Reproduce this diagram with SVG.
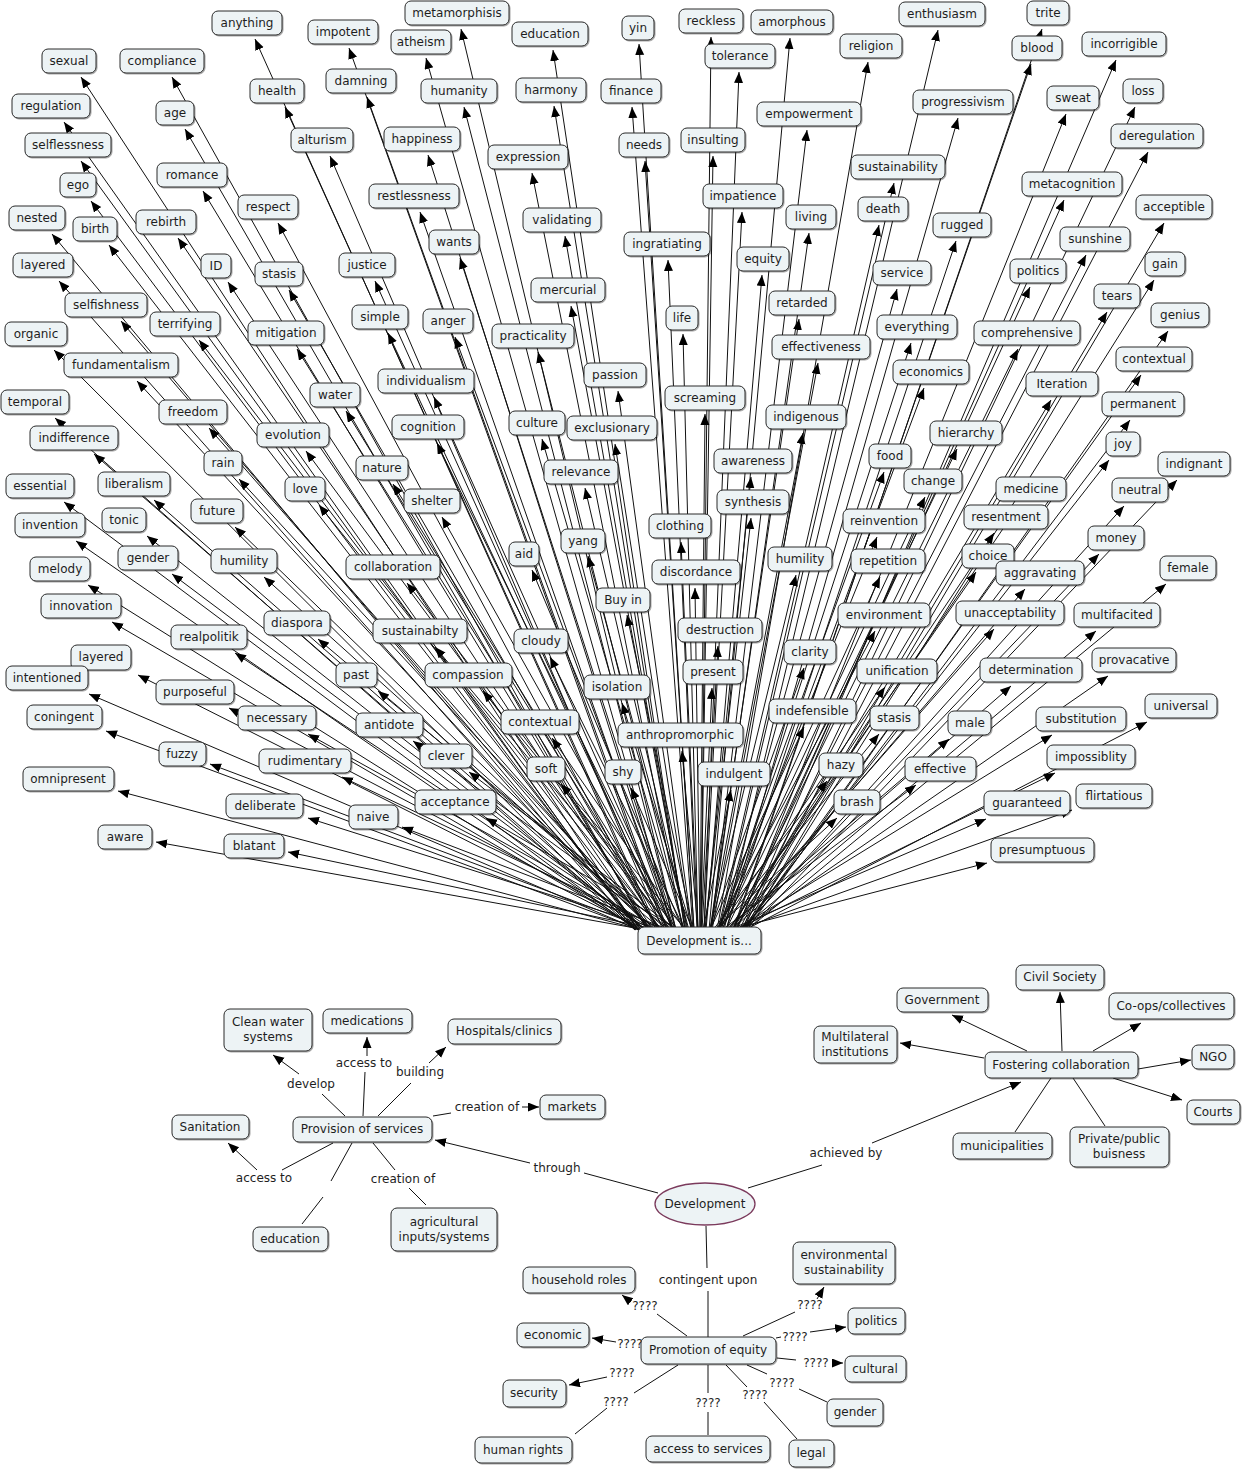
<svg xmlns="http://www.w3.org/2000/svg" width="1245" height="1471" viewBox="0 0 1245 1471">
<style>
.c path{fill:none;stroke:#111;stroke-width:1}
.c .a{marker-end:url(#ah)}
.n rect{fill:#edf3f5;stroke:#2a2a2a;stroke-width:1;filter:url(#sh)}
.n text,.lp{font-family:"DejaVu Sans",Verdana,sans-serif;font-size:12px;fill:#1e1e1e;text-anchor:middle}
.root ellipse{fill:#edf3f5;stroke:#7b3a5c;stroke-width:1.3}
</style>
<defs>
<marker id="ah" markerUnits="userSpaceOnUse" markerWidth="12" markerHeight="10" refX="11" refY="4.5" orient="auto"><path d="M0,0 L11,4.5 L0,9 z" fill="#000"/></marker>
<filter id="sh" x="-10%" y="-20%" width="130%" height="160%"><feDropShadow dx="1" dy="1" stdDeviation="0.5" flood-color="#000" flood-opacity="0.35"/></filter>
</defs>
<rect width="1245" height="1471" fill="#fff"/>
<g id="connectors" class="c">
<path class="a" d="M656 930L255 39"/>
<path class="a" d="M665 930L349 48"/>
<path class="a" d="M676 930L461 29"/>
<path class="a" d="M673 930L426 58"/>
<path class="a" d="M685 930L553 50"/>
<path class="a" d="M694 930L639 44"/>
<path class="a" d="M701 930L711 37"/>
<path class="a" d="M709 930L790 38"/>
<path class="a" d="M724 930L938 30"/>
<path class="a" d="M734 930L1042 29"/>
<path class="a" d="M638 930L81 77"/>
<path class="a" d="M647 930L172 77"/>
<path class="a" d="M742 930L1116 60"/>
<path class="a" d="M717 930L868 62"/>
<path class="a" d="M704 930L739 72"/>
<path class="a" d="M733 930L1031 64"/>
<path class="a" d="M667 930L367 97"/>
<path class="a" d="M676 930L464 107"/>
<path class="a" d="M685 930L554 106"/>
<path class="a" d="M693 930L632 107"/>
<path class="a" d="M658 930L285 107"/>
<path class="a" d="M648 930L185 129"/>
<path class="a" d="M636 930L64 122"/>
<path class="a" d="M737 930L1066 114"/>
<path class="a" d="M743 930L1135 107"/>
<path class="a" d="M726 930L958 118"/>
<path class="a" d="M711 930L807 130"/>
<path class="a" d="M701 930L713 156"/>
<path class="a" d="M663 930L330 156"/>
<path class="a" d="M673 930L428 155"/>
<path class="a" d="M638 930L81 161"/>
<path class="a" d="M745 930L1148 152"/>
<path class="a" d="M683 930L532 173"/>
<path class="a" d="M694 930L645 161"/>
<path class="a" d="M719 930L894 183"/>
<path class="a" d="M650 930L203 191"/>
<path class="a" d="M639 930L91 201"/>
<path class="a" d="M736 930L1064 200"/>
<path class="a" d="M704 930L742 212"/>
<path class="a" d="M672 930L420 212"/>
<path class="a" d="M658 930L278 223"/>
<path class="a" d="M746 930L1164 223"/>
<path class="a" d="M718 930L879 225"/>
<path class="a" d="M711 930L809 233"/>
<path class="a" d="M686 930L565 236"/>
<path class="a" d="M635 930L52 234"/>
<path class="a" d="M648 930L178 238"/>
<path class="a" d="M726 930L956 241"/>
<path class="a" d="M641 930L109 245"/>
<path class="a" d="M697 930L668 260"/>
<path class="a" d="M676 930L460 258"/>
<path class="a" d="M739 930L1086 255"/>
<path class="a" d="M653 930L228 282"/>
<path class="a" d="M659 930L289 290"/>
<path class="a" d="M667 930L375 281"/>
<path class="a" d="M706 930L762 275"/>
<path class="a" d="M636 930L59 281"/>
<path class="a" d="M745 930L1154 280"/>
<path class="a" d="M720 930L897 289"/>
<path class="a" d="M733 930L1030 287"/>
<path class="a" d="M687 930L571 306"/>
<path class="a" d="M741 930L1107 312"/>
<path class="a" d="M710 930L799 319"/>
<path class="a" d="M642 930L121 321"/>
<path class="a" d="M650 930L199 340"/>
<path class="a" d="M669 930L388 333"/>
<path class="a" d="M675 930L455 337"/>
<path class="a" d="M698 930L683 334"/>
<path class="a" d="M747 930L1168 331"/>
<path class="a" d="M660 930L297 349"/>
<path class="a" d="M684 930L538 352"/>
<path class="a" d="M721 930L911 343"/>
<path class="a" d="M732 930L1018 349"/>
<path class="a" d="M635 930L54 350"/>
<path class="a" d="M712 930L818 363"/>
<path class="a" d="M744 930L1141 375"/>
<path class="a" d="M644 930L137 381"/>
<path class="a" d="M722 930L924 388"/>
<path class="a" d="M692 930L618 391"/>
<path class="a" d="M673 930L434 397"/>
<path class="a" d="M735 930L1051 400"/>
<path class="a" d="M700 930L705 414"/>
<path class="a" d="M665 930L346 411"/>
<path class="a" d="M635 930L55 418"/>
<path class="a" d="M743 930L1130 420"/>
<path class="a" d="M651 930L209 428"/>
<path class="a" d="M710 930L803 433"/>
<path class="a" d="M684 930L542 439"/>
<path class="a" d="M691 930L615 444"/>
<path class="a" d="M674 930L437 443"/>
<path class="a" d="M726 930L957 449"/>
<path class="a" d="M639 930L94 454"/>
<path class="a" d="M661 930L306 451"/>
<path class="a" d="M741 930L1109 460"/>
<path class="a" d="M718 930L884 472"/>
<path class="a" d="M705 930L751 477"/>
<path class="a" d="M748 930L1177 480"/>
<path class="a" d="M654 930L239 479"/>
<path class="a" d="M669 930L393 484"/>
<path class="a" d="M688 930L585 488"/>
<path class="a" d="M722 930L925 497"/>
<path class="a" d="M645 930L154 500"/>
<path class="a" d="M636 930L64 502"/>
<path class="a" d="M732 930L1019 505"/>
<path class="a" d="M742 930L1124 506"/>
<path class="a" d="M662 930L319 505"/>
<path class="a" d="M674 930L442 517"/>
<path class="a" d="M705 930L751 518"/>
<path class="a" d="M653 930L235 527"/>
<path class="a" d="M729 930L994 533"/>
<path class="a" d="M718 930L877 537"/>
<path class="a" d="M645 930L147 536"/>
<path class="a" d="M638 930L76 541"/>
<path class="a" d="M698 930L681 542"/>
<path class="a" d="M683 930L532 570"/>
<path class="a" d="M689 930L588 556"/>
<path class="a" d="M740 930L1099 554"/>
<path class="a" d="M710 930L796 575"/>
<path class="a" d="M647 930L172 574"/>
<path class="a" d="M656 930L264 577"/>
<path class="a" d="M728 930L976 572"/>
<path class="a" d="M718 930L880 577"/>
<path class="a" d="M671 930L407 583"/>
<path class="a" d="M700 930L695 588"/>
<path class="a" d="M732 930L1025 589"/>
<path class="a" d="M747 930L1166 584"/>
<path class="a" d="M639 930L88 585"/>
<path class="a" d="M693 930L627 615"/>
<path class="a" d="M641 930L112 622"/>
<path class="a" d="M717 930L875 631"/>
<path class="a" d="M729 930L994 629"/>
<path class="a" d="M740 930L1096 631"/>
<path class="a" d="M662 930L318 639"/>
<path class="a" d="M673 930L435 647"/>
<path class="a" d="M702 930L718 646"/>
<path class="a" d="M653 930L235 653"/>
<path class="a" d="M685 930L550 657"/>
<path class="a" d="M710 930L804 668"/>
<path class="a" d="M644 930L138 675"/>
<path class="a" d="M639 930L89 694"/>
<path class="a" d="M718 930L885 687"/>
<path class="a" d="M731 930L1011 686"/>
<path class="a" d="M741 930L1108 676"/>
<path class="a" d="M668 930L378 691"/>
<path class="a" d="M678 930L483 691"/>
<path class="a" d="M701 930L712 688"/>
<path class="a" d="M692 930L622 703"/>
<path class="a" d="M653 930L229 708"/>
<path class="a" d="M710 930L804 727"/>
<path class="a" d="M718 930L879 734"/>
<path class="a" d="M735 930L1052 735"/>
<path class="a" d="M745 930L1147 722"/>
<path class="a" d="M641 930L106 731"/>
<path class="a" d="M661 930L308 734"/>
<path class="a" d="M685 930L552 738"/>
<path class="a" d="M671 930L413 741"/>
<path class="a" d="M698 930L682 751"/>
<path class="a" d="M725 930L949 739"/>
<path class="a" d="M677 930L469 772"/>
<path class="a" d="M651 930L210 764"/>
<path class="a" d="M664 930L342 777"/>
<path class="a" d="M735 930L1055 773"/>
<path class="a" d="M686 930L561 784"/>
<path class="a" d="M693 930L631 788"/>
<path class="a" d="M703 930L731 790"/>
<path class="a" d="M713 930L827 781"/>
<path class="a" d="M722 930L916 785"/>
<path class="a" d="M642 930L118 791"/>
<path class="a" d="M679 930L486 818"/>
<path class="a" d="M670 930L402 827"/>
<path class="a" d="M661 930L308 818"/>
<path class="a" d="M714 930L837 818"/>
<path class="a" d="M729 930L986 819"/>
<path class="a" d="M737 930L1072 810"/>
<path class="a" d="M646 930L156 842"/>
<path class="a" d="M659 930L288 852"/>
<path class="a" d="M729 930L987 863"/>
<path d="M658 1193L584 1173"/>
<path class="a" d="M530 1163L435 1140"/>
<path d="M748 1188L822 1165"/>
<path class="a" d="M872 1143L1021 1082"/>
<path d="M706 1226L707 1268"/>
<path d="M708 1291L708 1337"/>
<path d="M345 1116L322 1094"/>
<path class="a" d="M299 1074L273 1055"/>
<path d="M363 1116L365 1072"/>
<path class="a" d="M367 1056L367 1037"/>
<path d="M378 1116L411 1083"/>
<path class="a" d="M429 1063L446 1047"/>
<path d="M433 1116L451 1113"/>
<path class="a" d="M522 1107L539 1107"/>
<path d="M333 1143L282 1170"/>
<path class="a" d="M257 1170L228 1143"/>
<path d="M352 1143L331 1181"/>
<path d="M323 1197L302 1224"/>
<path d="M373 1143L395 1170"/>
<path d="M409 1188L426 1205"/>
<path class="a" d="M1062 1051L1060 992"/>
<path class="a" d="M1027 1051L952 1015"/>
<path class="a" d="M1093 1051L1141 1023"/>
<path class="a" d="M984 1058L900 1043"/>
<path class="a" d="M1138 1069L1191 1060"/>
<path class="a" d="M1113 1078L1182 1100"/>
<path d="M1051 1078L1015 1132"/>
<path d="M1073 1078L1105 1126"/>
<path d="M687 1336L657 1314"/>
<path class="a" d="M631 1302L622 1295"/>
<path d="M743 1336L795 1312"/>
<path class="a" d="M817 1299L824 1287"/>
<path d="M776 1338L781 1337"/>
<path class="a" d="M810 1332L846 1327"/>
<path class="a" d="M616 1342L592 1338"/>
<path d="M777 1358L796 1360"/>
<path class="a" d="M832 1363L843 1363"/>
<path class="a" d="M607 1377L569 1385"/>
<path d="M678 1365L634 1393"/>
<path d="M607 1408L575 1434"/>
<path d="M708 1365L708 1393"/>
<path d="M708 1412L708 1435"/>
<path d="M726 1365L747 1387"/>
<path d="M764 1402L797 1439"/>
<path d="M747 1365L767 1374"/>
<path d="M799 1389L827 1402"/>
</g>
<g id="linking-phrases">
<text class="lp" x="557" y="1172">through</text>
<text class="lp" x="846" y="1157">achieved by</text>
<text class="lp" x="708" y="1284">contingent upon</text>
<text class="lp" x="311" y="1088">develop</text>
<text class="lp" x="364" y="1067">access to</text>
<text class="lp" x="420" y="1076">building</text>
<text class="lp" x="487" y="1111">creation of</text>
<text class="lp" x="264" y="1182">access to</text>
<text class="lp" x="403" y="1183">creation of</text>
<text class="lp" x="645" y="1310">????</text>
<text class="lp" x="810" y="1309">????</text>
<text class="lp" x="795" y="1341">????</text>
<text class="lp" x="630" y="1348">????</text>
<text class="lp" x="816" y="1367">????</text>
<text class="lp" x="622" y="1377">????</text>
<text class="lp" x="616" y="1406">????</text>
<text class="lp" x="708" y="1407">????</text>
<text class="lp" x="755" y="1399">????</text>
<text class="lp" x="782" y="1387">????</text>
</g>
<g id="n-anything" class="n"><rect x="212" y="11" width="70" height="24" rx="6"/><text x="247" y="27">anything</text></g>
<g id="n-impotent" class="n"><rect x="308" y="20" width="70" height="24" rx="6"/><text x="343" y="36">impotent</text></g>
<g id="n-metamorphisis" class="n"><rect x="405" y="1" width="104" height="24" rx="6"/><text x="457" y="17">metamorphisis</text></g>
<g id="n-atheism" class="n"><rect x="391" y="30" width="60" height="24" rx="6"/><text x="421" y="46">atheism</text></g>
<g id="n-education-1" class="n"><rect x="512" y="22" width="76" height="24" rx="6"/><text x="550" y="38">education</text></g>
<g id="n-yin" class="n"><rect x="622" y="16" width="32" height="24" rx="6"/><text x="638" y="32">yin</text></g>
<g id="n-reckless" class="n"><rect x="679" y="9" width="64" height="24" rx="6"/><text x="711" y="25">reckless</text></g>
<g id="n-amorphous" class="n"><rect x="751" y="10" width="82" height="24" rx="6"/><text x="792" y="26">amorphous</text></g>
<g id="n-enthusiasm" class="n"><rect x="899" y="2" width="86" height="24" rx="6"/><text x="942" y="18">enthusiasm</text></g>
<g id="n-trite" class="n"><rect x="1027" y="1" width="42" height="24" rx="6"/><text x="1048" y="17">trite</text></g>
<g id="n-sexual" class="n"><rect x="42" y="49" width="54" height="24" rx="6"/><text x="69" y="65">sexual</text></g>
<g id="n-compliance" class="n"><rect x="120" y="49" width="84" height="24" rx="6"/><text x="162" y="65">compliance</text></g>
<g id="n-incorrigible" class="n"><rect x="1082" y="32" width="84" height="24" rx="6"/><text x="1124" y="48">incorrigible</text></g>
<g id="n-religion" class="n"><rect x="840" y="34" width="62" height="24" rx="6"/><text x="871" y="50">religion</text></g>
<g id="n-tolerance" class="n"><rect x="705" y="44" width="70" height="24" rx="6"/><text x="740" y="60">tolerance</text></g>
<g id="n-blood" class="n"><rect x="1012" y="36" width="50" height="24" rx="6"/><text x="1037" y="52">blood</text></g>
<g id="n-damning" class="n"><rect x="326" y="69" width="70" height="24" rx="6"/><text x="361" y="85">damning</text></g>
<g id="n-humanity" class="n"><rect x="421" y="79" width="76" height="24" rx="6"/><text x="459" y="95">humanity</text></g>
<g id="n-harmony" class="n"><rect x="516" y="78" width="70" height="24" rx="6"/><text x="551" y="94">harmony</text></g>
<g id="n-finance" class="n"><rect x="601" y="79" width="60" height="24" rx="6"/><text x="631" y="95">finance</text></g>
<g id="n-health" class="n"><rect x="250" y="79" width="54" height="24" rx="6"/><text x="277" y="95">health</text></g>
<g id="n-age" class="n"><rect x="156" y="101" width="38" height="24" rx="6"/><text x="175" y="117">age</text></g>
<g id="n-regulation" class="n"><rect x="12" y="94" width="78" height="24" rx="6"/><text x="51" y="110">regulation</text></g>
<g id="n-sweat" class="n"><rect x="1047" y="86" width="52" height="24" rx="6"/><text x="1073" y="102">sweat</text></g>
<g id="n-loss" class="n"><rect x="1123" y="79" width="40" height="24" rx="6"/><text x="1143" y="95">loss</text></g>
<g id="n-progressivism" class="n"><rect x="913" y="90" width="100" height="24" rx="6"/><text x="963" y="106">progressivism</text></g>
<g id="n-empowerment" class="n"><rect x="757" y="102" width="104" height="24" rx="6"/><text x="809" y="118">empowerment</text></g>
<g id="n-insulting" class="n"><rect x="681" y="128" width="64" height="24" rx="6"/><text x="713" y="144">insulting</text></g>
<g id="n-alturism" class="n"><rect x="291" y="128" width="62" height="24" rx="6"/><text x="322" y="144">alturism</text></g>
<g id="n-happiness" class="n"><rect x="384" y="127" width="76" height="24" rx="6"/><text x="422" y="143">happiness</text></g>
<g id="n-selflessness" class="n"><rect x="25" y="133" width="86" height="24" rx="6"/><text x="68" y="149">selflessness</text></g>
<g id="n-deregulation" class="n"><rect x="1111" y="124" width="92" height="24" rx="6"/><text x="1157" y="140">deregulation</text></g>
<g id="n-expression" class="n"><rect x="488" y="145" width="80" height="24" rx="6"/><text x="528" y="161">expression</text></g>
<g id="n-needs" class="n"><rect x="619" y="133" width="50" height="24" rx="6"/><text x="644" y="149">needs</text></g>
<g id="n-sustainability" class="n"><rect x="851" y="155" width="94" height="24" rx="6"/><text x="898" y="171">sustainability</text></g>
<g id="n-romance" class="n"><rect x="157" y="163" width="70" height="24" rx="6"/><text x="192" y="179">romance</text></g>
<g id="n-ego" class="n"><rect x="60" y="173" width="36" height="24" rx="6"/><text x="78" y="189">ego</text></g>
<g id="n-metacognition" class="n"><rect x="1022" y="172" width="100" height="24" rx="6"/><text x="1072" y="188">metacognition</text></g>
<g id="n-impatience" class="n"><rect x="703" y="184" width="80" height="24" rx="6"/><text x="743" y="200">impatience</text></g>
<g id="n-restlessness" class="n"><rect x="369" y="184" width="90" height="24" rx="6"/><text x="414" y="200">restlessness</text></g>
<g id="n-respect" class="n"><rect x="238" y="195" width="60" height="24" rx="6"/><text x="268" y="211">respect</text></g>
<g id="n-acceptible" class="n"><rect x="1136" y="195" width="76" height="24" rx="6"/><text x="1174" y="211">acceptible</text></g>
<g id="n-death" class="n"><rect x="858" y="197" width="50" height="24" rx="6"/><text x="883" y="213">death</text></g>
<g id="n-living" class="n"><rect x="786" y="205" width="50" height="24" rx="6"/><text x="811" y="221">living</text></g>
<g id="n-validating" class="n"><rect x="523" y="208" width="78" height="24" rx="6"/><text x="562" y="224">validating</text></g>
<g id="n-nested" class="n"><rect x="9" y="206" width="56" height="24" rx="6"/><text x="37" y="222">nested</text></g>
<g id="n-rebirth" class="n"><rect x="136" y="210" width="60" height="24" rx="6"/><text x="166" y="226">rebirth</text></g>
<g id="n-rugged" class="n"><rect x="933" y="213" width="58" height="24" rx="6"/><text x="962" y="229">rugged</text></g>
<g id="n-birth" class="n"><rect x="73" y="217" width="44" height="24" rx="6"/><text x="95" y="233">birth</text></g>
<g id="n-ingratiating" class="n"><rect x="624" y="232" width="86" height="24" rx="6"/><text x="667" y="248">ingratiating</text></g>
<g id="n-wants" class="n"><rect x="429" y="230" width="50" height="24" rx="6"/><text x="454" y="246">wants</text></g>
<g id="n-sunshine" class="n"><rect x="1060" y="227" width="70" height="24" rx="6"/><text x="1095" y="243">sunshine</text></g>
<g id="n-ID" class="n"><rect x="201" y="254" width="30" height="24" rx="6"/><text x="216" y="270">ID</text></g>
<g id="n-stasis-1" class="n"><rect x="255" y="262" width="48" height="24" rx="6"/><text x="279" y="278">stasis</text></g>
<g id="n-justice" class="n"><rect x="339" y="253" width="56" height="24" rx="6"/><text x="367" y="269">justice</text></g>
<g id="n-equity" class="n"><rect x="737" y="247" width="52" height="24" rx="6"/><text x="763" y="263">equity</text></g>
<g id="n-layered-1" class="n"><rect x="13" y="253" width="60" height="24" rx="6"/><text x="43" y="269">layered</text></g>
<g id="n-gain" class="n"><rect x="1145" y="252" width="40" height="24" rx="6"/><text x="1165" y="268">gain</text></g>
<g id="n-service" class="n"><rect x="873" y="261" width="58" height="24" rx="6"/><text x="902" y="277">service</text></g>
<g id="n-politics-1" class="n"><rect x="1010" y="259" width="56" height="24" rx="6"/><text x="1038" y="275">politics</text></g>
<g id="n-mercurial" class="n"><rect x="531" y="278" width="74" height="24" rx="6"/><text x="568" y="294">mercurial</text></g>
<g id="n-tears" class="n"><rect x="1094" y="284" width="46" height="24" rx="6"/><text x="1117" y="300">tears</text></g>
<g id="n-retarded" class="n"><rect x="769" y="291" width="66" height="24" rx="6"/><text x="802" y="307">retarded</text></g>
<g id="n-selfishness" class="n"><rect x="65" y="293" width="82" height="24" rx="6"/><text x="106" y="309">selfishness</text></g>
<g id="n-terrifying" class="n"><rect x="150" y="312" width="70" height="24" rx="6"/><text x="185" y="328">terrifying</text></g>
<g id="n-simple" class="n"><rect x="352" y="305" width="56" height="24" rx="6"/><text x="380" y="321">simple</text></g>
<g id="n-anger" class="n"><rect x="423" y="309" width="50" height="24" rx="6"/><text x="448" y="325">anger</text></g>
<g id="n-life" class="n"><rect x="666" y="306" width="32" height="24" rx="6"/><text x="682" y="322">life</text></g>
<g id="n-genius" class="n"><rect x="1151" y="303" width="58" height="24" rx="6"/><text x="1180" y="319">genius</text></g>
<g id="n-mitigation" class="n"><rect x="248" y="321" width="76" height="24" rx="6"/><text x="286" y="337">mitigation</text></g>
<g id="n-practicality" class="n"><rect x="492" y="324" width="82" height="24" rx="6"/><text x="533" y="340">practicality</text></g>
<g id="n-everything" class="n"><rect x="877" y="315" width="80" height="24" rx="6"/><text x="917" y="331">everything</text></g>
<g id="n-comprehensive" class="n"><rect x="974" y="321" width="106" height="24" rx="6"/><text x="1027" y="337">comprehensive</text></g>
<g id="n-organic" class="n"><rect x="5" y="322" width="62" height="24" rx="6"/><text x="36" y="338">organic</text></g>
<g id="n-effectiveness" class="n"><rect x="772" y="335" width="98" height="24" rx="6"/><text x="821" y="351">effectiveness</text></g>
<g id="n-contextual-1" class="n"><rect x="1116" y="347" width="76" height="24" rx="6"/><text x="1154" y="363">contextual</text></g>
<g id="n-fundamentalism" class="n"><rect x="64" y="353" width="114" height="24" rx="6"/><text x="121" y="369">fundamentalism</text></g>
<g id="n-economics" class="n"><rect x="893" y="360" width="76" height="24" rx="6"/><text x="931" y="376">economics</text></g>
<g id="n-passion" class="n"><rect x="584" y="363" width="62" height="24" rx="6"/><text x="615" y="379">passion</text></g>
<g id="n-individualism" class="n"><rect x="378" y="369" width="96" height="24" rx="6"/><text x="426" y="385">individualism</text></g>
<g id="n-Iteration" class="n"><rect x="1026" y="372" width="72" height="24" rx="6"/><text x="1062" y="388">Iteration</text></g>
<g id="n-screaming" class="n"><rect x="665" y="386" width="80" height="24" rx="6"/><text x="705" y="402">screaming</text></g>
<g id="n-water" class="n"><rect x="310" y="383" width="50" height="24" rx="6"/><text x="335" y="399">water</text></g>
<g id="n-temporal" class="n"><rect x="1" y="390" width="68" height="24" rx="6"/><text x="35" y="406">temporal</text></g>
<g id="n-permanent" class="n"><rect x="1102" y="392" width="82" height="24" rx="6"/><text x="1143" y="408">permanent</text></g>
<g id="n-freedom" class="n"><rect x="159" y="400" width="68" height="24" rx="6"/><text x="193" y="416">freedom</text></g>
<g id="n-indigenous" class="n"><rect x="766" y="405" width="80" height="24" rx="6"/><text x="806" y="421">indigenous</text></g>
<g id="n-culture" class="n"><rect x="509" y="411" width="56" height="24" rx="6"/><text x="537" y="427">culture</text></g>
<g id="n-exclusionary" class="n"><rect x="567" y="416" width="90" height="24" rx="6"/><text x="612" y="432">exclusionary</text></g>
<g id="n-cognition" class="n"><rect x="392" y="415" width="72" height="24" rx="6"/><text x="428" y="431">cognition</text></g>
<g id="n-hierarchy" class="n"><rect x="930" y="421" width="72" height="24" rx="6"/><text x="966" y="437">hierarchy</text></g>
<g id="n-indifference" class="n"><rect x="30" y="426" width="88" height="24" rx="6"/><text x="74" y="442">indifference</text></g>
<g id="n-evolution" class="n"><rect x="257" y="423" width="72" height="24" rx="6"/><text x="293" y="439">evolution</text></g>
<g id="n-joy" class="n"><rect x="1106" y="432" width="34" height="24" rx="6"/><text x="1123" y="448">joy</text></g>
<g id="n-food" class="n"><rect x="869" y="444" width="42" height="24" rx="6"/><text x="890" y="460">food</text></g>
<g id="n-awareness" class="n"><rect x="714" y="449" width="78" height="24" rx="6"/><text x="753" y="465">awareness</text></g>
<g id="n-indignant" class="n"><rect x="1158" y="452" width="72" height="24" rx="6"/><text x="1194" y="468">indignant</text></g>
<g id="n-rain" class="n"><rect x="204" y="451" width="38" height="24" rx="6"/><text x="223" y="467">rain</text></g>
<g id="n-nature" class="n"><rect x="356" y="456" width="52" height="24" rx="6"/><text x="382" y="472">nature</text></g>
<g id="n-relevance" class="n"><rect x="544" y="460" width="74" height="24" rx="6"/><text x="581" y="476">relevance</text></g>
<g id="n-change" class="n"><rect x="904" y="469" width="58" height="24" rx="6"/><text x="933" y="485">change</text></g>
<g id="n-liberalism" class="n"><rect x="98" y="472" width="72" height="24" rx="6"/><text x="134" y="488">liberalism</text></g>
<g id="n-essential" class="n"><rect x="6" y="474" width="68" height="24" rx="6"/><text x="40" y="490">essential</text></g>
<g id="n-medicine" class="n"><rect x="996" y="477" width="70" height="24" rx="6"/><text x="1031" y="493">medicine</text></g>
<g id="n-neutral" class="n"><rect x="1112" y="478" width="56" height="24" rx="6"/><text x="1140" y="494">neutral</text></g>
<g id="n-love" class="n"><rect x="285" y="477" width="40" height="24" rx="6"/><text x="305" y="493">love</text></g>
<g id="n-shelter" class="n"><rect x="404" y="489" width="56" height="24" rx="6"/><text x="432" y="505">shelter</text></g>
<g id="n-synthesis" class="n"><rect x="717" y="490" width="72" height="24" rx="6"/><text x="753" y="506">synthesis</text></g>
<g id="n-future" class="n"><rect x="191" y="499" width="52" height="24" rx="6"/><text x="217" y="515">future</text></g>
<g id="n-resentment" class="n"><rect x="964" y="505" width="84" height="24" rx="6"/><text x="1006" y="521">resentment</text></g>
<g id="n-reinvention" class="n"><rect x="843" y="509" width="82" height="24" rx="6"/><text x="884" y="525">reinvention</text></g>
<g id="n-tonic" class="n"><rect x="102" y="508" width="44" height="24" rx="6"/><text x="124" y="524">tonic</text></g>
<g id="n-invention" class="n"><rect x="15" y="513" width="70" height="24" rx="6"/><text x="50" y="529">invention</text></g>
<g id="n-clothing" class="n"><rect x="649" y="514" width="62" height="24" rx="6"/><text x="680" y="530">clothing</text></g>
<g id="n-aid" class="n"><rect x="509" y="542" width="30" height="24" rx="6"/><text x="524" y="558">aid</text></g>
<g id="n-yang" class="n"><rect x="561" y="529" width="44" height="24" rx="6"/><text x="583" y="545">yang</text></g>
<g id="n-money" class="n"><rect x="1088" y="526" width="56" height="24" rx="6"/><text x="1116" y="542">money</text></g>
<g id="n-humility-2" class="n"><rect x="768" y="547" width="64" height="24" rx="6"/><text x="800" y="563">humility</text></g>
<g id="n-gender-1" class="n"><rect x="118" y="546" width="60" height="24" rx="6"/><text x="148" y="562">gender</text></g>
<g id="n-humility-1" class="n"><rect x="211" y="549" width="66" height="24" rx="6"/><text x="244" y="565">humility</text></g>
<g id="n-choice" class="n"><rect x="962" y="544" width="52" height="24" rx="6"/><text x="988" y="560">choice</text></g>
<g id="n-repetition" class="n"><rect x="851" y="549" width="74" height="24" rx="6"/><text x="888" y="565">repetition</text></g>
<g id="n-collaboration" class="n"><rect x="346" y="555" width="94" height="24" rx="6"/><text x="393" y="571">collaboration</text></g>
<g id="n-discordance" class="n"><rect x="652" y="560" width="88" height="24" rx="6"/><text x="696" y="576">discordance</text></g>
<g id="n-aggravating" class="n"><rect x="996" y="561" width="88" height="24" rx="6"/><text x="1040" y="577">aggravating</text></g>
<g id="n-female" class="n"><rect x="1160" y="556" width="56" height="24" rx="6"/><text x="1188" y="572">female</text></g>
<g id="n-melody" class="n"><rect x="30" y="557" width="60" height="24" rx="6"/><text x="60" y="573">melody</text></g>
<g id="n-Buy-in" class="n"><rect x="596" y="588" width="54" height="24" rx="6"/><text x="623" y="604">Buy in</text></g>
<g id="n-innovation" class="n"><rect x="41" y="594" width="80" height="24" rx="6"/><text x="81" y="610">innovation</text></g>
<g id="n-environment" class="n"><rect x="838" y="603" width="92" height="24" rx="6"/><text x="884" y="619">environment</text></g>
<g id="n-unacceptability" class="n"><rect x="956" y="601" width="108" height="24" rx="6"/><text x="1010" y="617">unacceptability</text></g>
<g id="n-multifacited" class="n"><rect x="1074" y="603" width="86" height="24" rx="6"/><text x="1117" y="619">multifacited</text></g>
<g id="n-diaspora" class="n"><rect x="264" y="611" width="66" height="24" rx="6"/><text x="297" y="627">diaspora</text></g>
<g id="n-sustainabilty" class="n"><rect x="373" y="619" width="94" height="24" rx="6"/><text x="420" y="635">sustainabilty</text></g>
<g id="n-destruction" class="n"><rect x="678" y="618" width="84" height="24" rx="6"/><text x="720" y="634">destruction</text></g>
<g id="n-realpolitik" class="n"><rect x="171" y="625" width="76" height="24" rx="6"/><text x="209" y="641">realpolitik</text></g>
<g id="n-cloudy" class="n"><rect x="514" y="629" width="54" height="24" rx="6"/><text x="541" y="645">cloudy</text></g>
<g id="n-clarity" class="n"><rect x="784" y="640" width="52" height="24" rx="6"/><text x="810" y="656">clarity</text></g>
<g id="n-layered-2" class="n"><rect x="71" y="645" width="60" height="25" rx="6"/><text x="101" y="661">layered</text></g>
<g id="n-intentioned" class="n"><rect x="6" y="666" width="82" height="24" rx="6"/><text x="47" y="682">intentioned</text></g>
<g id="n-unification" class="n"><rect x="857" y="659" width="80" height="24" rx="6"/><text x="897" y="675">unification</text></g>
<g id="n-determination" class="n"><rect x="980" y="658" width="102" height="24" rx="6"/><text x="1031" y="674">determination</text></g>
<g id="n-provacative" class="n"><rect x="1092" y="648" width="84" height="24" rx="6"/><text x="1134" y="664">provacative</text></g>
<g id="n-past" class="n"><rect x="336" y="663" width="41" height="24" rx="6"/><text x="356" y="679">past</text></g>
<g id="n-compassion" class="n"><rect x="425" y="663" width="87" height="24" rx="6"/><text x="468" y="679">compassion</text></g>
<g id="n-present" class="n"><rect x="683" y="660" width="60" height="24" rx="6"/><text x="713" y="676">present</text></g>
<g id="n-isolation" class="n"><rect x="584" y="675" width="66" height="24" rx="6"/><text x="617" y="691">isolation</text></g>
<g id="n-purposeful" class="n"><rect x="156" y="680" width="78" height="24" rx="6"/><text x="195" y="696">purposeful</text></g>
<g id="n-indefensible" class="n"><rect x="769" y="699" width="87" height="24" rx="6"/><text x="812" y="715">indefensible</text></g>
<g id="n-stasis-2" class="n"><rect x="870" y="706" width="49" height="24" rx="6"/><text x="894" y="722">stasis</text></g>
<g id="n-substitution" class="n"><rect x="1036" y="707" width="90" height="24" rx="6"/><text x="1081" y="723">substitution</text></g>
<g id="n-universal" class="n"><rect x="1145" y="694" width="72" height="24" rx="6"/><text x="1181" y="710">universal</text></g>
<g id="n-coningent" class="n"><rect x="27" y="705" width="75" height="24" rx="6"/><text x="64" y="721">coningent</text></g>
<g id="n-necessary" class="n"><rect x="238" y="706" width="78" height="24" rx="6"/><text x="277" y="722">necessary</text></g>
<g id="n-contextual-2" class="n"><rect x="501" y="710" width="78" height="24" rx="6"/><text x="540" y="726">contextual</text></g>
<g id="n-antidote" class="n"><rect x="356" y="713" width="67" height="24" rx="6"/><text x="389" y="729">antidote</text></g>
<g id="n-anthropromorphic" class="n"><rect x="618" y="723" width="125" height="24" rx="6"/><text x="680" y="739">anthropromorphic</text></g>
<g id="n-male" class="n"><rect x="948" y="711" width="43" height="24" rx="6"/><text x="970" y="727">male</text></g>
<g id="n-clever" class="n"><rect x="420" y="744" width="52" height="24" rx="6"/><text x="446" y="760">clever</text></g>
<g id="n-fuzzy" class="n"><rect x="159" y="742" width="47" height="24" rx="6"/><text x="182" y="758">fuzzy</text></g>
<g id="n-rudimentary" class="n"><rect x="259" y="749" width="92" height="24" rx="6"/><text x="305" y="765">rudimentary</text></g>
<g id="n-impossiblity" class="n"><rect x="1047" y="745" width="88" height="24" rx="6"/><text x="1091" y="761">impossiblity</text></g>
<g id="n-soft" class="n"><rect x="527" y="757" width="38" height="24" rx="6"/><text x="546" y="773">soft</text></g>
<g id="n-shy" class="n"><rect x="605" y="760" width="36" height="24" rx="6"/><text x="623" y="776">shy</text></g>
<g id="n-indulgent" class="n"><rect x="698" y="762" width="72" height="24" rx="6"/><text x="734" y="778">indulgent</text></g>
<g id="n-hazy" class="n"><rect x="819" y="753" width="44" height="24" rx="6"/><text x="841" y="769">hazy</text></g>
<g id="n-effective" class="n"><rect x="905" y="757" width="71" height="24" rx="6"/><text x="940" y="773">effective</text></g>
<g id="n-omnipresent" class="n"><rect x="23" y="767" width="91" height="24" rx="6"/><text x="68" y="783">omnipresent</text></g>
<g id="n-acceptance" class="n"><rect x="415" y="790" width="81" height="24" rx="6"/><text x="455" y="806">acceptance</text></g>
<g id="n-naive" class="n"><rect x="349" y="805" width="49" height="24" rx="6"/><text x="373" y="821">naive</text></g>
<g id="n-deliberate" class="n"><rect x="226" y="794" width="77" height="24" rx="6"/><text x="265" y="810">deliberate</text></g>
<g id="n-brash" class="n"><rect x="834" y="790" width="46" height="24" rx="6"/><text x="857" y="806">brash</text></g>
<g id="n-guaranteed" class="n"><rect x="984" y="791" width="86" height="24" rx="6"/><text x="1027" y="807">guaranteed</text></g>
<g id="n-flirtatious" class="n"><rect x="1076" y="784" width="76" height="24" rx="6"/><text x="1114" y="800">flirtatious</text></g>
<g id="n-aware" class="n"><rect x="98" y="825" width="54" height="24" rx="6"/><text x="125" y="841">aware</text></g>
<g id="n-blatant" class="n"><rect x="224" y="834" width="60" height="24" rx="6"/><text x="254" y="850">blatant</text></g>
<g id="n-presumptuous" class="n"><rect x="991" y="838" width="103" height="24" rx="6"/><text x="1042" y="854">presumptuous</text></g>
<g id="n-development-is" class="n"><rect x="638" y="927" width="123" height="27" rx="6"/><text x="699" y="945">Development is...</text></g>
<g id="n-development" class="n root"><ellipse cx="705" cy="1204" rx="50" ry="21"/><text x="705" y="1208">Development</text></g>
<g id="n-provision" class="n"><rect x="293" y="1117" width="139" height="25" rx="6"/><text x="362" y="1133">Provision of services</text></g>
<g id="n-clean-water" class="n"><rect x="224" y="1009" width="88" height="42" rx="6"/><text x="268" y="1026">Clean water</text><text x="268" y="1041">systems</text></g>
<g id="n-medications" class="n"><rect x="323" y="1009" width="89" height="24" rx="6"/><text x="367" y="1025">medications</text></g>
<g id="n-hospitals" class="n"><rect x="448" y="1019" width="113" height="25" rx="6"/><text x="504" y="1035">Hospitals/clinics</text></g>
<g id="n-markets" class="n"><rect x="540" y="1095" width="65" height="24" rx="6"/><text x="572" y="1111">markets</text></g>
<g id="n-sanitation" class="n"><rect x="172" y="1115" width="77" height="24" rx="6"/><text x="210" y="1131">Sanitation</text></g>
<g id="n-education-2" class="n"><rect x="253" y="1227" width="75" height="24" rx="6"/><text x="290" y="1243">education</text></g>
<g id="n-agricultural" class="n"><rect x="391" y="1208" width="106" height="43" rx="6"/><text x="444" y="1226">agricultural</text><text x="444" y="1241">inputs/systems</text></g>
<g id="n-fostering" class="n"><rect x="985" y="1052" width="153" height="26" rx="6"/><text x="1061" y="1069">Fostering collaboration</text></g>
<g id="n-civil-society" class="n"><rect x="1016" y="965" width="88" height="25" rx="6"/><text x="1060" y="981">Civil Society</text></g>
<g id="n-government" class="n"><rect x="897" y="988" width="91" height="24" rx="6"/><text x="942" y="1004">Government</text></g>
<g id="n-coops" class="n"><rect x="1109" y="993" width="125" height="26" rx="6"/><text x="1171" y="1010">Co-ops/collectives</text></g>
<g id="n-multilateral" class="n"><rect x="814" y="1026" width="83" height="37" rx="6"/><text x="855" y="1041">Multilateral</text><text x="855" y="1056">institutions</text></g>
<g id="n-ngo" class="n"><rect x="1192" y="1045" width="42" height="24" rx="6"/><text x="1213" y="1061">NGO</text></g>
<g id="n-courts" class="n"><rect x="1187" y="1100" width="53" height="24" rx="6"/><text x="1213" y="1116">Courts</text></g>
<g id="n-municipalities" class="n"><rect x="953" y="1133" width="99" height="26" rx="6"/><text x="1002" y="1150">municipalities</text></g>
<g id="n-private" class="n"><rect x="1070" y="1127" width="99" height="40" rx="6"/><text x="1119" y="1143">Private/public</text><text x="1119" y="1158">buisness</text></g>
<g id="n-promotion" class="n"><rect x="641" y="1337" width="135" height="27" rx="6"/><text x="708" y="1354">Promotion of equity</text></g>
<g id="n-household" class="n"><rect x="523" y="1267" width="112" height="26" rx="6"/><text x="579" y="1284">household roles</text></g>
<g id="n-environmental" class="n"><rect x="793" y="1242" width="102" height="42" rx="6"/><text x="844" y="1259">environmental</text><text x="844" y="1274">sustainability</text></g>
<g id="n-politics-2" class="n"><rect x="848" y="1308" width="57" height="26" rx="6"/><text x="876" y="1325">politics</text></g>
<g id="n-economic" class="n"><rect x="517" y="1323" width="72" height="24" rx="6"/><text x="553" y="1339">economic</text></g>
<g id="n-cultural" class="n"><rect x="845" y="1356" width="61" height="26" rx="6"/><text x="875" y="1373">cultural</text></g>
<g id="n-security" class="n"><rect x="503" y="1380" width="63" height="27" rx="6"/><text x="534" y="1397">security</text></g>
<g id="n-gender-2" class="n"><rect x="827" y="1399" width="56" height="27" rx="6"/><text x="855" y="1416">gender</text></g>
<g id="n-human-rights" class="n"><rect x="475" y="1437" width="97" height="26" rx="6"/><text x="523" y="1454">human rights</text></g>
<g id="n-access-services" class="n"><rect x="646" y="1436" width="124" height="26" rx="6"/><text x="708" y="1453">access to services</text></g>
<g id="n-legal" class="n"><rect x="789" y="1440" width="45" height="27" rx="6"/><text x="811" y="1457">legal</text></g>
</svg>
